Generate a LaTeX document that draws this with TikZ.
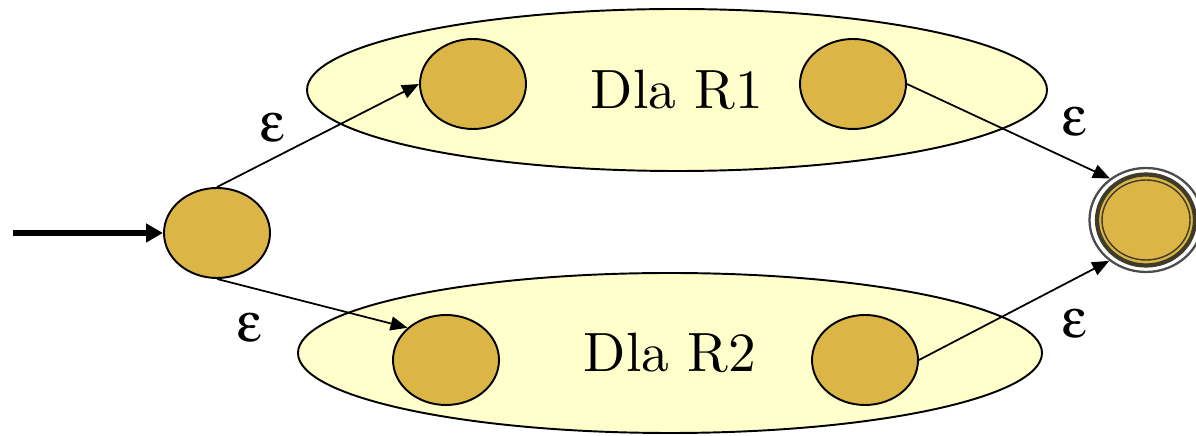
\documentclass[tikz,border=0pt]{standalone}
\usepackage[Symbol]{upgreek}
\usetikzlibrary{arrows.meta,shapes.geometric}
\definecolor{regfill}{RGB}{255,255,204}
\definecolor{statefill}{RGB}{219,182,70}
\definecolor{ringdark}{RGB}{64,58,40}
\newcommand{\bigtxt}[1]{\scalebox{3.15}{#1}}

\begin{document}
\begin{tikzpicture}[
		region/.style={ellipse, draw, line width=1.1pt, fill=regfill, inner sep=0pt},
		state/.style={ellipse, draw, line width=1.1pt, fill=statefill, inner sep=0pt, minimum width=2.12cm, minimum height=1.8cm},
		lab/.style={inner sep=0pt, font=\fontsize{31.5}{34}\selectfont},
		tr/.style={-{Triangle[length=0.34cm,width=0.28cm]}, line width=1pt}]
		\useasboundingbox (0,0) rectangle (23.92,8.72);
%		regions
		\node[region, minimum width=14.8cm, minimum height=3.24cm] (R1) at (13.54,6.92) {\bigtxt{Dla R1}};
		\node[region, minimum width=14.88cm, minimum height=3.2cm] (R2) at (13.40,1.66) {\bigtxt{Dla R2}};
%		states
		\node[state] (q0) at (4.34,4.06) {};
		\node[state] (q1) at (9.46,7.04) {};
		\node[state] (q2) at (17.06,7.04) {};
		\node[state] (q3) at (8.92,1.52) {};
		\node[state] (q4) at (17.30,1.52) {};
		\node[ellipse, draw=gray!60!black, line width=1.3pt, fill=white, inner sep=0pt,
			minimum width=2.26cm, minimum height=2.08cm] (qf) at (22.92,4.32) {};
		\draw[ringdark, line width=2.4pt, fill=statefill] (qf.center) ellipse (0.98 and 0.91);
		\draw[ringdark, line width=0.8pt] (qf.center) ellipse (0.88 and 0.80);
%		
		\coordinate (in) at (0.26,4.06);
		\draw[line width=3pt, -{Triangle[length=0.34cm,width=0.36cm]}] (in) -- (q0.west);
		\path (q0.north) edge[tr] (q1.west)
			(q0.south) edge[tr] (q3.140)
			(q2.east) edge[tr] (qf.131)
			(q4.east) edge[tr] (qf.228);
%		labels
		\node[lab] (e1) at (5.46,6.16) {$\upvarepsilon$};
		\node[lab] (e2) at (21.50,6.28) {$\upvarepsilon$};
		\node[lab] (e3) at (5.00,2.16) {$\upvarepsilon$};
		\node[lab] (e4) at (21.50,2.24) {$\upvarepsilon$};
	\end{tikzpicture}
\end{document}
